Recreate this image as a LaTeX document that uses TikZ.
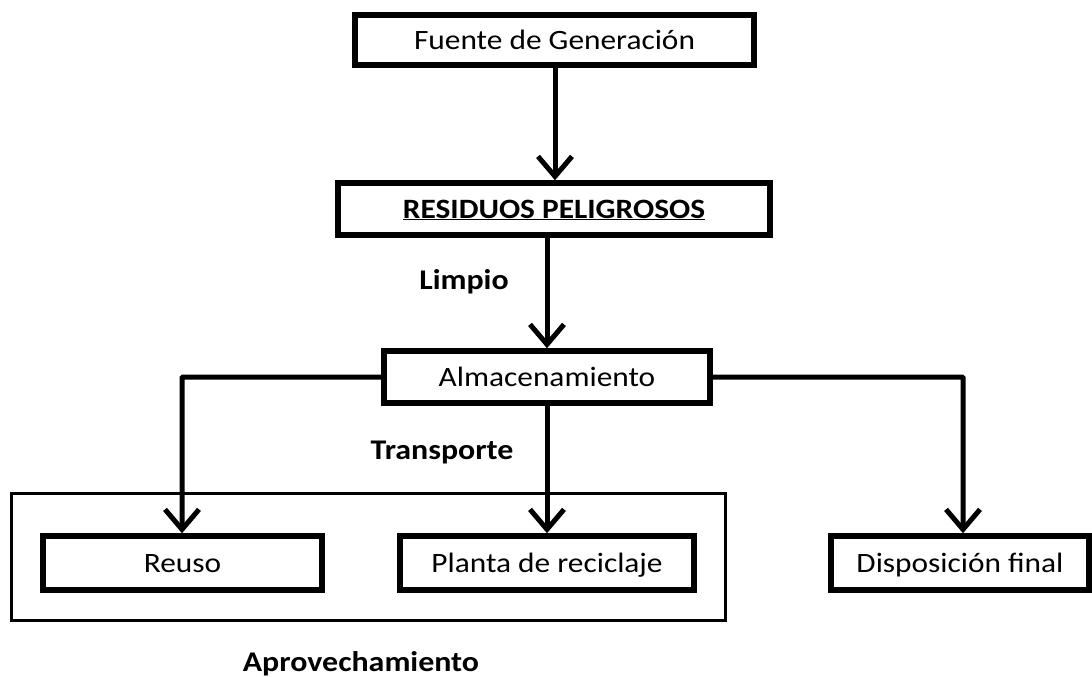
\documentclass[tikz,border=0pt]{standalone}
\usepackage{fontspec}
\setmainfont{Carlito}[FakeStretch=1.12]
\usetikzlibrary{arrows.meta}
\begin{document}
\begin{tikzpicture}[x=1pt,y=-1pt,
  box/.style={draw, line width=5.5pt, rectangle, inner sep=0pt, text height=18pt, text depth=0pt, font=\fontsize{28}{32}\selectfont},
  lbl/.style={inner sep=0pt, text height=18pt, text depth=0pt, font=\fontsize{28.5}{32}\selectfont\bfseries},
  conn/.style={line width=5pt, -{Straight Barb[length=20pt,width=34pt,line width=5pt]}},
]
\useasboundingbox (0,0) rectangle (1092,677);
\fill[white] (0,0) rectangle (1092,677);
% frame
\node[draw, line width=2.8pt, minimum width=714pt, minimum height=127pt, inner sep=0pt] (frame) at (368.5,557) {};
\node[box, minimum width=399pt, minimum height=50pt] (fuente) at (554.5,40) {Fuente de Generación};
\node[box, minimum width=432pt, minimum height=52pt, font=\fontsize{28}{32}\selectfont\bfseries] (res) at (554,209) {\underline{RESIDUOS PELIGROSOS}};
\node[box, minimum width=326pt, minimum height=52pt] (alm) at (547,377) {Almacenamiento};
\node[box, minimum width=279pt, minimum height=54pt] (reuso) at (182.5,563) {Reuso};
\node[box, minimum width=294pt, minimum height=54pt] (planta) at (547,563) {Planta de reciclaje};
\node[box, minimum width=258pt, minimum height=54pt] (disp) at (960,563) {Disposición final};
\node[lbl] (limpio) at (464,280) {Limpio};
\node[lbl] (transp) at (442,450) {Transporte};
\node[lbl] (aprov) at (361,662) {Aprovechamiento};
% connectors
\draw[conn] (fuente.south -| 555,0) -- (res.north -| 555,0);
\draw[conn] (res.south -| 547,0) -- (alm.north -| 547,0);
\draw[conn] (alm.south) -- (planta.north);
\draw[conn, rounded corners=1pt] (alm.west) -- (182,377) -- (reuso.north -| 182,0);
\draw[conn, rounded corners=1pt] (alm.east) -- (963,377) -- (disp.north -| 963,0);
\end{tikzpicture}
\end{document}
